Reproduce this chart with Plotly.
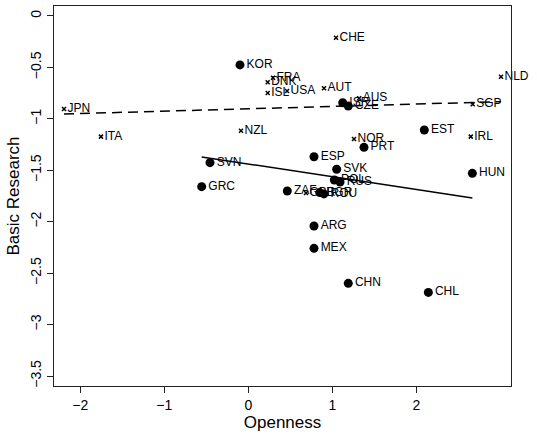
import plotly.graph_objects as go

# Group A (filled circles)
circ_labels = ["KOR", "ISR", "CZE", "PRT", "ESP", "SVK", "POL", "RUS", "ZAF", "BGR", "ROU",
               "ARG", "MEX", "CHN", "CHL", "EST", "HUN", "SVN", "GRC"]
circ_x = [-0.099, 1.124, 1.19, 1.377, 0.782, 1.052, 1.024, 1.092, 0.464, 0.85, 0.90,
          0.782, 0.782, 1.19, 2.143, 2.095, 2.667, -0.456, -0.555]
circ_y = [-0.476, -0.843, -0.875, -1.277, -1.368, -1.49, -1.594, -1.614, -1.701, -1.717, -1.73,
          -2.042, -2.259, -2.599, -2.687, -1.108, -1.53, -1.426, -1.659]

# Group B (crosses)
cross_labels = ["JPN", "ITA", "NZL", "DNK", "ISL", "FRA", "USA", "AUT", "CHE", "AUS", "NOR",
                "GBR", "IRL", "SGP", "NLD"]
cross_x = [-2.194, -1.754, -0.087, 0.231, 0.231, 0.294, 0.461, 0.901, 1.044, 1.32, 1.258,
           0.687, 2.648, 2.671, 3.008]
cross_y = [-0.904, -1.173, -1.115, -0.645, -0.749, -0.601, -0.729, -0.703, -0.211, -0.80, -1.196,
           -1.721, -1.173, -0.859, -0.59]

# Fitted lines
fit_circ_x = [-0.555, 2.667]
fit_circ_y = [-1.37, -1.77]
fit_cross_x = [-2.194, 3.008]
fit_cross_y = [-0.953, -0.833]

x_ticks = [-2, -1, 0, 1, 2]
y_ticks = [0, -0.5, -1, -1.5, -2, -2.5, -3, -3.5]

FONT = "Liberation Sans, Arial, sans-serif"

fig = go.Figure()
fig.add_trace(go.Scatter(x=fit_cross_x, y=fit_cross_y, mode="lines",
                         line=dict(color="black", width=1.5, dash="10px,6px"), hoverinfo="skip"))
fig.add_trace(go.Scatter(x=fit_circ_x, y=fit_circ_y, mode="lines",
                         line=dict(color="black", width=1.5), hoverinfo="skip"))
fig.add_trace(go.Scatter(x=circ_x, y=circ_y, mode="markers+text", text=circ_labels,
                         textposition="middle right", cliponaxis=False,
                         textfont=dict(family=FONT, size=12, color="black"),
                         marker=dict(symbol="circle", size=9, color="black")))
fig.add_trace(go.Scatter(x=cross_x, y=cross_y, mode="markers+text", text=cross_labels,
                         textposition="middle right", cliponaxis=False,
                         textfont=dict(family=FONT, size=12, color="black"),
                         marker=dict(symbol="x-thin", size=4, color="black",
                                     line=dict(width=1.5, color="black"))))

fig.update_layout(
    width=537, height=434,
    margin=dict(l=54, r=26, t=6, b=48),
    paper_bgcolor="white", plot_bgcolor="white",
    showlegend=False,
    font=dict(family=FONT, size=14, color="black"),
    xaxis=dict(range=[-2.313, 3.127], tickvals=x_ticks, ticks="outside", ticklen=6,
               tickwidth=1, tickcolor="#222", showgrid=False, zeroline=False,
               showline=True, mirror=True, linecolor="#222", linewidth=1.2,
               tickfont=dict(size=14), title=dict(text="Openness", standoff=2)),
    yaxis=dict(range=[-3.597, 0.097], tickvals=y_ticks, ticks="outside", ticklen=6,
               tickwidth=1, tickcolor="#222", showgrid=False, zeroline=False,
               showline=True, mirror=True, linecolor="#222", linewidth=1.2,
               tickangle=-90, tickfont=dict(size=14),
               title=dict(text="Basic Research", standoff=4)),
)

fig.write_html("out.html")
